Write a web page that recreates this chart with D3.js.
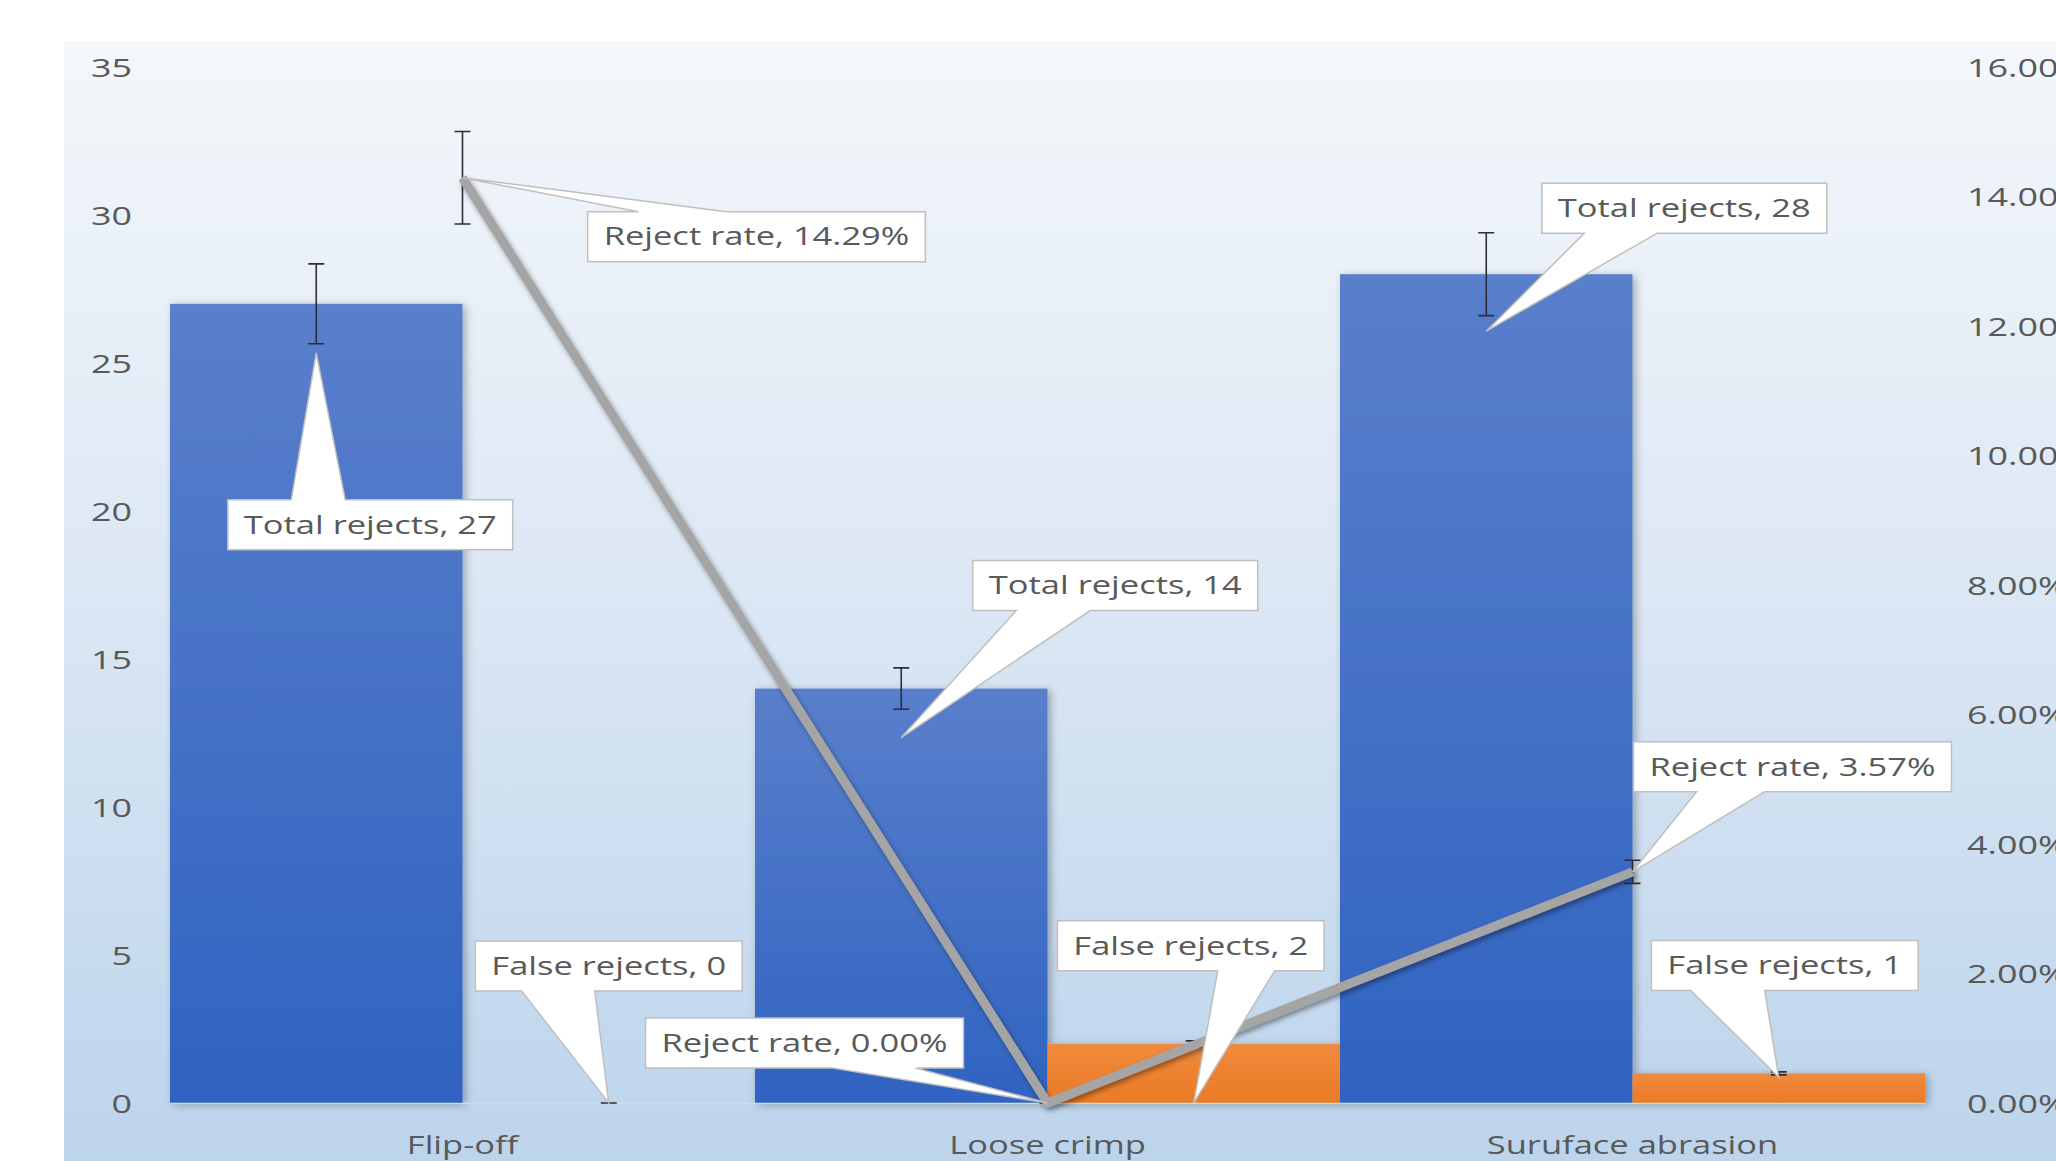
<!DOCTYPE html>
<html>
<head>
<meta charset="utf-8">
<script src="https://cdn.jsdelivr.net/npm/d3@7"></script>
<style>
  html, body { margin: 0; padding: 0; background: #fff; overflow: hidden; }
  svg { display: block; }
</style>
</head>
<body>
<div id="container"></div>
<script>
const categories = ["Flip-off", "Loose crimp", "Suruface abrasion"];
const totalRejects = [27, 14, 28];
const falseRejects = [0, 2, 1];
const rejectRate = [0.1429, 0, 0.0357];
const countTicks = [0, 5, 10, 15, 20, 25, 30, 35];
const rateTicks = [0, 0.02, 0.04, 0.06, 0.08, 0.10, 0.12, 0.14, 0.16];
const errorShare = 0.05; // 5% error bars on every series

// callout placement: box centre offset from the point, tip offset, tail base (relative to box centre)
const calloutLayout = [
    {series: "total", i: 0, dx: 54, dy: 221, tipDy: 49, base: [-79, -25]},
    {series: "total", i: 1, dx: 214, dy: -103, tipDy: 49, base: [-99, -25]},
    {series: "total", i: 2, dx: 198, dy: -66, tipDy: 57, base: [-100, -27]},
    {series: "false", i: 0, dx: 0, dy: -137, tipDy: 0, base: [-87, -14]},
    {series: "false", i: 1, dx: -3, dy: -98, tipDy: 59, base: [27, 84]},
    {series: "false", i: 2, dx: 6, dy: -108, tipDy: 4, base: [-94, -20]},
    {series: "rate", i: 0, dx: 294, dy: 59, tipDy: 0, base: [-118, -30]},
    {series: "rate", i: 1, dx: -243, dy: -60, tipDy: 0, base: [28, 111]},
    {series: "rate", i: 2, dx: 160, dy: -105, tipDy: 0, base: [-96, -28]}
];

const width = 2056;
const height = 1161;
const plotLeft = 170;
const plotRight = 1925;
const plotTop = 67;
const plotBottom = 1103;
const SX = 1.38; // text is drawn a little wide
const fontSize = 25;
const textColor = "#595959";
const font = "'Open Sans', 'Noto Sans', sans-serif";

const x = d3.scaleBand(categories, [plotLeft, plotRight]).padding(0);
const xs = d3.scaleBand(["total", "false"], [0, x.bandwidth()]).padding(0);
const y = d3.scaleLinear([0, 35], [plotBottom, plotTop]);
const y2 = d3.scaleLinear([0, 0.16], [plotBottom, plotTop]);
const pct = d3.format(".2%");

const svg = d3.create("svg")
    .attr("width", width)
    .attr("height", height)
    .attr("viewBox", [0, 0, width, height])
    .style("font-family", font);

// attach early so text can be measured
document.getElementById("container").append(svg.node());

const defs = svg.append("defs");

const bg = defs.append("linearGradient").attr("id", "bg").attr("x1", 0).attr("y1", 0).attr("x2", 0).attr("y2", 1);
bg.append("stop").attr("offset", 0).attr("stop-color", "#f4f7fb");
bg.append("stop").attr("offset", 0.5).attr("stop-color", "#dbe7f4");
bg.append("stop").attr("offset", 1).attr("stop-color", "#bcd4ec");

const blue = defs.append("linearGradient").attr("id", "blue").attr("x1", 0).attr("y1", 0).attr("x2", 0).attr("y2", 1);
blue.append("stop").attr("offset", 0).attr("stop-color", "#5a7fcb");
blue.append("stop").attr("offset", 1).attr("stop-color", "#2f63c1");

const orange = defs.append("linearGradient").attr("id", "orange").attr("x1", 0).attr("y1", 0).attr("x2", 0).attr("y2", 1);
orange.append("stop").attr("offset", 0).attr("stop-color", "#f08a3c");
orange.append("stop").attr("offset", 1).attr("stop-color", "#eb7a26");

defs.append("filter").attr("id", "barShadow").attr("x", "-20%").attr("y", "-20%").attr("width", "140%").attr("height", "140%")
    .append("feDropShadow").attr("dx", 3).attr("dy", 2).attr("stdDeviation", 4)
    .attr("flood-color", "#000").attr("flood-opacity", 0.3);

defs.append("filter").attr("id", "lineShadow").attr("x", "-20%").attr("y", "-20%").attr("width", "140%").attr("height", "140%")
    .append("feDropShadow").attr("dx", 2).attr("dy", 3).attr("stdDeviation", 2.5)
    .attr("flood-color", "#000").attr("flood-opacity", 0.4);

// chart area background
svg.append("rect")
    .attr("x", 64).attr("y", 41)
    .attr("width", width - 64).attr("height", height - 41)
    .attr("fill", "url(#bg)");

// left axis
svg.append("g")
    .attr("transform", `translate(132,0)`)
    .call(d3.axisLeft(y).tickValues(countTicks).tickSize(0).tickPadding(0))
    .call(g => g.select(".domain").remove())
    .call(g => g.selectAll("text")
        .attr("font-size", 26).attr("font-family", font).attr("fill", textColor)
        .attr("dy", "0.35em")
        .attr("transform", `scale(${SX},1)`));

// right axis
svg.append("g")
    .attr("transform", `translate(1967,0)`)
    .call(d3.axisRight(y2).tickValues(rateTicks).tickFormat(pct).tickSize(0).tickPadding(0))
    .call(g => g.select(".domain").remove())
    .call(g => g.selectAll("text")
        .attr("font-size", 26).attr("font-family", font).attr("fill", textColor)
        .attr("dy", "0.35em")
        .attr("transform", `scale(${SX},1)`));

const series = [
    {key: "total", values: totalRejects, fill: "url(#blue)"},
    {key: "false", values: falseRejects, fill: "url(#orange)"}
];

// bars
const bars = svg.append("g").attr("filter", "url(#barShadow)");
series.forEach(s => {
    bars.selectAll(null)
        .data(categories)
        .join("rect")
        .attr("x", (c) => x(c) + xs(s.key))
        .attr("y", (c, i) => y(s.values[i]))
        .attr("width", xs.bandwidth())
        .attr("height", (c, i) => y(0) - y(s.values[i]))
        .attr("fill", s.fill);
});

// category axis
svg.append("g")
    .attr("transform", `translate(0,${plotBottom})`)
    .call(d3.axisBottom(x).tickSize(0).tickSizeOuter(0).tickPadding(33))
    .call(g => g.select(".domain").attr("stroke", "#d9d9d9").attr("stroke-width", 1.5))
    .call(g => g.selectAll("text")
        .attr("font-size", fontSize).attr("font-family", font).attr("fill", textColor)
        .attr("transform", `scale(${SX},1)`));

function errorBar(g, cx, v, scale) {
    const hi = scale(v * (1 + errorShare));
    const lo = scale(v * (1 - errorShare));
    g.append("path")
        .attr("d", `M${cx},${hi}V${lo}M${cx - 8},${hi}H${cx + 8}M${cx - 8},${lo}H${cx + 8}`)
        .attr("fill", "none")
        .attr("stroke", "#2d2d3a")
        .attr("stroke-width", 1.6);
}

// error bars for the columns and the rate points
const errs = svg.append("g");
series.forEach(s => {
    categories.forEach((c, i) => {
        errorBar(errs, x(c) + xs(s.key) + xs.bandwidth() / 2, s.values[i], y);
    });
});
categories.forEach((c, i) => {
    errorBar(errs, x(c) + x.bandwidth() / 2, rejectRate[i], y2);
});

// reject rate line
const line = d3.line()
    .x((d, i) => x(categories[i]) + x.bandwidth() / 2)
    .y(d => y2(d));

svg.append("path")
    .attr("fill", "none")
    .attr("stroke", "#a5a5a5")
    .attr("stroke-width", 9)
    .attr("stroke-linejoin", "round")
    .attr("filter", "url(#lineShadow)")
    .attr("d", line(rejectRate));

// data callouts
function anchorOf(seriesKey, i) {
    const c = categories[i];
    if (seriesKey === "rate") return [x(c) + x.bandwidth() / 2, y2(rejectRate[i])];
    const vals = seriesKey === "total" ? totalRejects : falseRejects;
    return [x(c) + xs(seriesKey) + xs.bandwidth() / 2, y(vals[i])];
}

function labelText(seriesKey, i) {
    if (seriesKey === "total") return `Total rejects, ${totalRejects[i]}`;
    if (seriesKey === "false") return `False rejects, ${falseRejects[i]}`;
    return `Reject rate, ${pct(rejectRate[i])}`;
}

const callouts = svg.append("g");
calloutLayout.forEach(l => {
    const [ax, ay] = anchorOf(l.series, l.i);
    const cx = ax + l.dx;
    const cy = ay + l.dy;
    const g = callouts.append("g");
    const outline = g.append("path");
    const t = g.append("g")
        .attr("transform", `translate(${cx},${cy}) scale(${SX},1)`)
        .append("text")
        .attr("text-anchor", "middle")
        .attr("dy", "0.35em")
        .attr("font-size", fontSize)
        .attr("fill", textColor)
        .text(labelText(l.series, l.i));
    const w = t.node().getComputedTextLength() * SX + 32;
    const h = 50;
    const x0 = cx - w / 2, x1 = cx + w / 2, y0 = cy - h / 2, y1 = cy + h / 2;
    const tipX = ax, tipY = ay + l.tipDy;
    const b1 = cx + l.base[0], b2 = cx + l.base[1];
    let d;
    if (tipY < y0) {
        d = `M${x0},${y0}L${b1},${y0}L${tipX},${tipY}L${b2},${y0}L${x1},${y0}L${x1},${y1}L${x0},${y1}Z`;
    } else {
        d = `M${x0},${y0}L${x1},${y0}L${x1},${y1}L${b2},${y1}L${tipX},${tipY}L${b1},${y1}L${x0},${y1}Z`;
    }
    outline.attr("d", d)
        .attr("fill", "#fff")
        .attr("stroke", "#bfbfbf")
        .attr("stroke-width", 1.5)
        .attr("stroke-linejoin", "miter");
});
</script>
</body>
</html>
